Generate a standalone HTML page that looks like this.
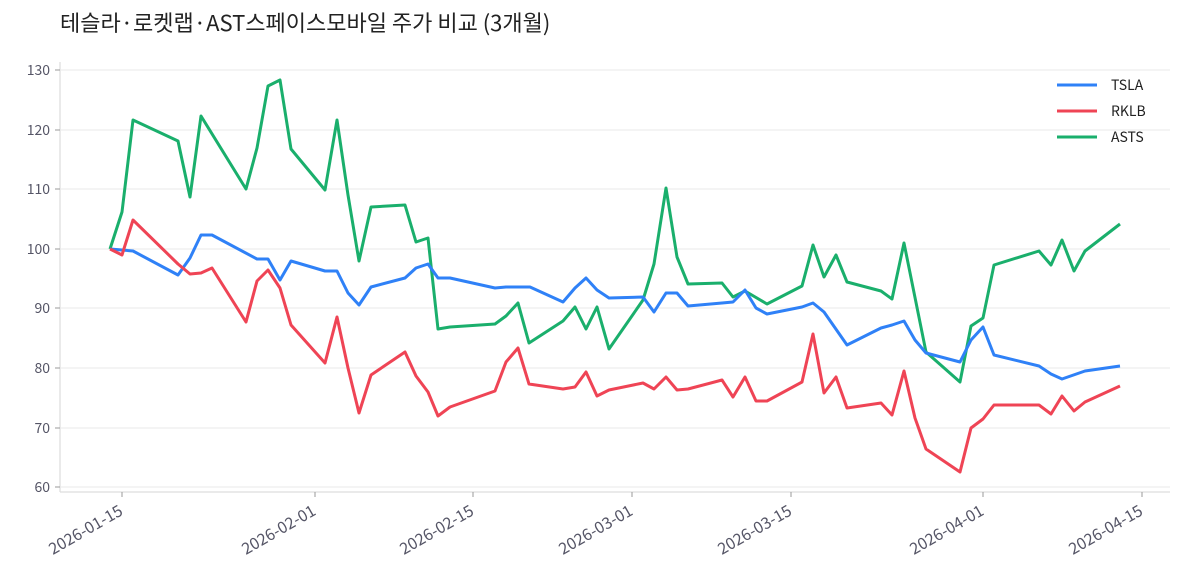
<!DOCTYPE html>
<html><head><meta charset="utf-8"><style>
body{margin:0;background:#fff;}
svg{display:block;font-family:"Noto Sans CJK KR",sans-serif;}
</style></head><body>
<svg width="1185" height="585" viewBox="0 0 1185 585">
<text x="60" y="31" font-size="22" fill="#222">테슬라·로켓랩·AST스페이스모바일 주가 비교 (3개월)</text>
<g stroke="#f0f0f0" stroke-width="1.5">
<line x1="61" x2="1170" y1="70" y2="70"/><line x1="61" x2="1170" y1="130" y2="130"/>
<line x1="61" x2="1170" y1="189" y2="189"/><line x1="61" x2="1170" y1="249" y2="249"/>
<line x1="61" x2="1170" y1="308" y2="308"/><line x1="61" x2="1170" y1="368" y2="368"/>
<line x1="61" x2="1170" y1="428" y2="428"/><line x1="61" x2="1170" y1="487" y2="487"/>
</g>
<g stroke="#ddd" stroke-width="1.2">
<line x1="60" y1="62" x2="60" y2="492"/><line x1="60" y1="492" x2="1170" y2="492"/>
</g>
<g stroke="#999" stroke-width="1">
<line x1="55" x2="60" y1="70" y2="70"/><line x1="55" x2="60" y1="130" y2="130"/><line x1="55" x2="60" y1="189" y2="189"/><line x1="55" x2="60" y1="249" y2="249"/><line x1="55" x2="60" y1="308" y2="308"/><line x1="55" x2="60" y1="368" y2="368"/><line x1="55" x2="60" y1="428" y2="428"/><line x1="55" x2="60" y1="487" y2="487"/>
<line x1="122" x2="122" y1="492" y2="497"/><line x1="315" x2="315" y1="492" y2="497"/><line x1="473" x2="473" y1="492" y2="497"/><line x1="632" x2="632" y1="492" y2="497"/><line x1="791" x2="791" y1="492" y2="497"/><line x1="983" x2="983" y1="492" y2="497"/><line x1="1142" x2="1142" y1="492" y2="497"/>
</g>
<g font-size="14" fill="#556" text-anchor="end">
<text x="50" y="75">130</text><text x="50" y="135">120</text><text x="50" y="194">110</text><text x="50" y="254">100</text><text x="50" y="313">90</text><text x="50" y="373">80</text><text x="50" y="433">70</text><text x="50" y="492">60</text>
</g>
<g font-size="16" fill="#556" text-anchor="end">
<text transform="translate(124,514) rotate(-30)">2026-01-15</text>
<text transform="translate(317,514) rotate(-30)">2026-02-01</text>
<text transform="translate(475,514) rotate(-30)">2026-02-15</text>
<text transform="translate(634,514) rotate(-30)">2026-03-01</text>
<text transform="translate(793,514) rotate(-30)">2026-03-15</text>
<text transform="translate(985,514) rotate(-30)">2026-04-01</text>
<text transform="translate(1144,514) rotate(-30)">2026-04-15</text>
</g>
<g fill="none" stroke-width="3" stroke-linejoin="round">
<polyline stroke="#1aaf6c" points="110,249 122,212 133,120 178,141 190,197 201,116 246,189 257,148 268,86 280,80 291,149 325,190 337,120 348,195 359,261 371,207 405,205 416,242 428,238 438,329 450,327 495,324 506,316 518,303 529,343 563,321 575,307 586,329 597,307 609,349 643,300 654,264 666,188 677,257 688,284 722,283 733,297 745,291 767,304 802,286 813,245 824,277 836,255 847,282 881,291 892,299 904,243 926,352 960,382 971,326 983,318 994,265 1039,251 1051,265 1062,240 1074,271 1085,251 1120,224"/>
<polyline stroke="#2f81f7" points="110,249 122,250 133,251 178,275 190,258 201,235 212,235 257,259 268,259 280,280 291,261 325,271 337,271 348,293 359,305 371,287 405,278 416,268 428,264 438,278 450,278 495,288 506,287 530,287 563,302 575,288 586,278 597,290 609,298 643,297 654,312 666,293 677,293 688,306 722,303 733,302 745,290 756,308 767,314 802,307 813,303 824,312 847,345 881,328 892,325 904,321 915,340 926,353 960,362 971,340 983,327 994,355 1039,366 1051,374 1062,379 1085,371 1120,366"/>
<polyline stroke="#ef4455" points="110,249 122,255 133,220 178,264 190,274 201,273 212,268 246,322 257,281 268,270 280,288 291,325 325,363 337,317 348,368 359,413 371,375 405,352 416,376 428,392 438,416 450,407 495,391 506,362 518,348 529,384 563,389 575,387 586,372 597,396 609,390 643,383 654,389 666,377 677,390 688,389 722,380 733,397 745,377 756,401 767,401 802,382 813,334 824,393 836,377 847,408 881,403 892,415 904,371 915,418 926,449 960,472 971,428 983,419 994,405 1039,405 1051,414 1062,396 1074,411 1085,402 1120,386"/>
</g>
<g stroke-width="3">
<line x1="1057" x2="1097" y1="85" y2="85" stroke="#2f81f7"/>
<line x1="1057" x2="1097" y1="111" y2="111" stroke="#ef4455"/>
<line x1="1057" x2="1097" y1="137" y2="137" stroke="#1aaf6c"/>
</g>
<g font-size="14" fill="#222">
<text x="1111" y="90">TSLA</text><text x="1111" y="116">RKLB</text><text x="1111" y="142">ASTS</text>
</g>
</svg>
</body></html>
